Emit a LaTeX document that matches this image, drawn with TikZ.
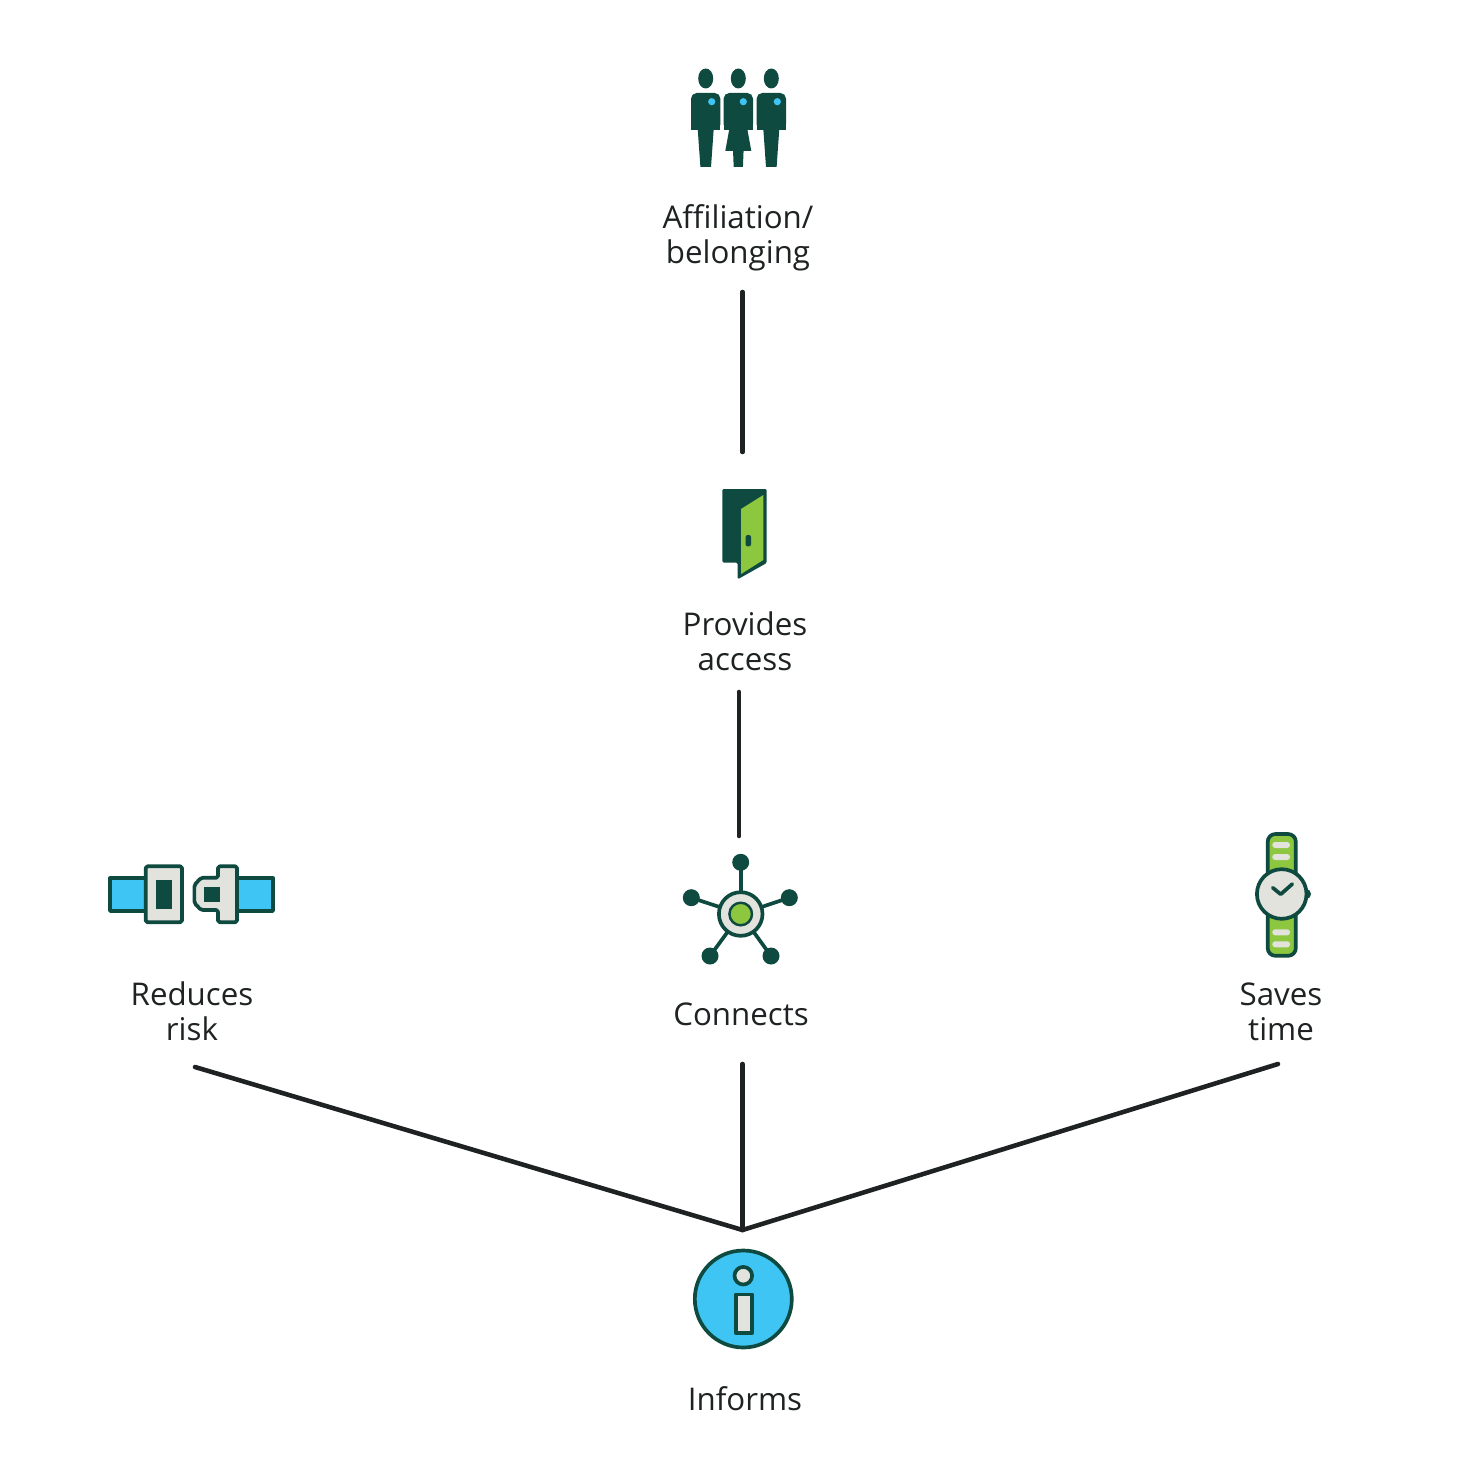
\documentclass[tikz,border=0pt]{standalone}
\usepackage{fontspec}
\setmainfont{Open Sans}
\definecolor{darkteal}{HTML}{0F4A40}
\definecolor{skyblue}{HTML}{3EC5F4}
\definecolor{leafgreen}{HTML}{8DC63F}
\definecolor{palegrey}{HTML}{E3E3DE}
\definecolor{linkblack}{HTML}{1E2222}
\tikzset{
  labeltext/.style={align=center,text=linkblack,inner sep=0pt,font=\fontsize{8.9}{9.96}\selectfont},
  linkline/.style={draw=linkblack,line width=1.3pt,line cap=round},
  iconline/.style={draw=darkteal,line width=1.05pt,line join=round},
}
\begin{document}
\begin{tikzpicture}[x=.01cm,y=-.01cm]
  \useasboundingbox (0,0) rectangle (1464,1458);
  % labels
  \node[labeltext] (affiliation) at (738,238) {Affiliation/\\belonging};
  \node[labeltext] (access) at (745,641) {Provides\\access};
  \node[labeltext] (risk) at (192,1011) {Reduces\\risk};
  \node[labeltext] (connects) at (741,1014) {Connects};
  \node[labeltext] (savestime) at (1281,1012) {Saves\\time};
  \node[labeltext] (informs) at (745,1399) {Informs};
  % connector ends
  \coordinate (affiliationEnd) at (742.5,292);
  \coordinate (doorEnd) at (742.5,452);
  \coordinate (accessEnd) at (739,692);
  \coordinate (hubEnd) at (739,836);
  \coordinate (riskEnd) at (195,1067);
  \coordinate (connectsEnd) at (742.5,1064);
  \coordinate (timeEnd) at (1278,1064);
  \coordinate (infoEnd) at (742.5,1230);
  \draw[linkline] (affiliationEnd) -- (doorEnd);
  \draw[linkline] (accessEnd) -- (hubEnd);
  \draw[linkline] (riskEnd) -- (infoEnd);
  \draw[linkline] (connectsEnd) -- (infoEnd);
  \draw[linkline] (timeEnd) -- (infoEnd);
  % people
  \foreach \px in {705.7,771.3} {
    \begin{scope}[shift={(\px,0)}]
      \fill[darkteal] (0,78.5) ellipse (7.5 and 10);
      \fill[darkteal,rounded corners=1.6pt] (-14.7,130) -- (-14.7,93) -- (14.7,93) -- (14.7,130) -- cycle;
      \fill[darkteal] (-14.7,125) rectangle (14.7,130);
      \fill[darkteal] (-8,129) -- (8,129) -- (5.3,167) -- (-5.3,167) -- cycle;
      \fill[skyblue] (6,101.7) circle (3.6);
    \end{scope}
  }
  \begin{scope}[shift={(738.3,0)}]
    \fill[darkteal] (0,78.5) ellipse (7.5 and 10);
    \fill[darkteal,rounded corners=1.6pt] (-14.7,130) -- (-14.7,93) -- (14.7,93) -- (14.7,130) -- cycle;
    \fill[darkteal] (-14.7,125) rectangle (14.7,130);
    \fill[darkteal] (-9,129) -- (9,129) -- (13,151) -- (-13,151) -- cycle;
    \fill[darkteal] (-5.3,150) -- (5.3,150) -- (4.6,167) -- (-4.6,167) -- cycle;
    \fill[skyblue] (5,101.7) circle (3.6);
  \end{scope}
  % door
  \fill[darkteal,rounded corners=.4pt] (722.3,489) -- (766.7,489) -- (766.7,563) -- (737.7,579.3) -- (737.7,562.7) -- (722.3,562.7) -- cycle;
  \fill[leafgreen] (741,509) -- (763.3,495) -- (763.3,560) -- (741,574) -- cycle;
  \fill[darkteal,rounded corners=.6pt] (745.6,535) rectangle (751,546.4);
  % belt
  \filldraw[iconline,fill=skyblue] (110,878.3) rectangle (146,911);
  \filldraw[iconline,fill=skyblue] (237,878.3) rectangle (273,911);
  \filldraw[iconline,fill=palegrey,rounded corners=.5pt] (145.7,866.3) rectangle (182,922.3);
  \fill[darkteal] (156.3,880) rectangle (172,908.7);
  \filldraw[iconline,fill=palegrey,rounded corners=.5pt] (218,866.3) -- (237,866.3) -- (237,922.3) -- (218,922.3) -- (218,910) -- (201,910) -- (194.4,903) -- (194.4,885) -- (201,877.8) -- (218,877.8) -- cycle;
  \fill[darkteal] (204.3,887.3) rectangle (219.7,902);
  % hub
  \draw[iconline] (740.7,914) -- (740.7,862.3);
  \foreach \hx/\hy in {691.3/897.7,789.3/897.7,710/956,771/956} {
    \draw[iconline] (740.7,914) -- (\hx,\hy);
  }
  \foreach \hx/\hy in {740.7/862.3,691.3/897.7,789.3/897.7,710/956,771/956} {
    \fill[darkteal] (\hx,\hy) circle (8.5);
  }
  \filldraw[iconline,fill=palegrey] (740.7,914) circle (21.8);
  \filldraw[iconline,line width=.7pt,fill=leafgreen] (740.7,914) circle (11.3);
  % watch
  \fill[darkteal] (1306,894) circle (5);
  \filldraw[iconline,fill=leafgreen,rounded corners=2.2pt] (1267.7,834) rectangle (1295.8,955.8);
  \foreach \by in {845,857,932.3,944.3} {
    \fill[palegrey,rounded corners=.8pt] (1272.3,\by-3) rectangle (1290,\by+3);
  }
  \filldraw[iconline,fill=palegrey] (1281.7,894) circle (24.8);
  \draw[iconline,line cap=round] (1272.7,887.7) -- (1280.7,894.3) -- (1292.3,884);
  % info
  \filldraw[iconline,fill=skyblue] (743.3,1299) circle (48.5);
  \filldraw[iconline,fill=palegrey] (743.3,1275.7) circle (8.8);
  \filldraw[iconline,fill=palegrey] (735.8,1294.5) rectangle (752.2,1333);
\end{tikzpicture}
\end{document}
